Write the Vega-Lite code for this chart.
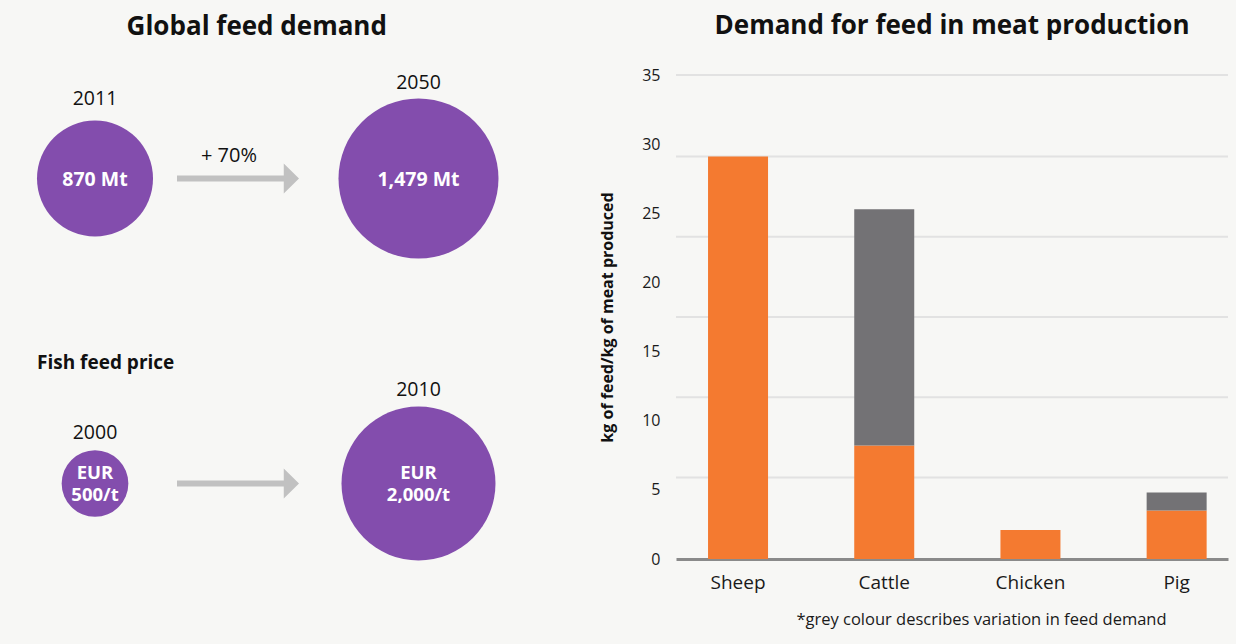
{
  "$schema": "https://vega.github.io/schema/vega-lite/v6.json",
  "background": "#f7f7f5",
  "padding": {"left": 0, "top": 13, "right": 8, "bottom": 16},
  "config": {
    "font": "Open Sans",
    "view": {"stroke": null},
    "title": {"font": "Open Sans", "fontWeight": "bold", "color": "#111111"},
    "axis": {"labelFont": "Open Sans", "titleFont": "Open Sans"},
    "axisY": {
      "labelFontSize": 16, "labelColor": "#1a1a1a", "labelPadding": 16,
      "ticks": false, "domain": false, "grid": false,
      "titleFontSize": 16, "titleFontWeight": "bold", "titleColor": "#111111", "titlePadding": 26
    },
    "axisX": {
      "labelFontSize": 19, "labelColor": "#1a1a1a", "labelPadding": 14, "labelAngle": 0,
      "ticks": false, "grid": false, "domainColor": "#8a8a8a", "domainWidth": 3,
      "titleFontSize": 16.5, "titleFontWeight": "normal", "titleColor": "#1a1a1a"
    }
  },
  "datasets": {
    "feed": [
      {"year": "2011", "value": 870, "label": "870 Mt"},
      {"year": "2050", "value": 1479, "label": "1,479 Mt"}
    ],
    "feedChange": [{"year": "2011", "change": "+ 70%"}],
    "fish": [
      {"year": "2000", "value": 500, "label": "EUR\n500/t"},
      {"year": "2010", "value": 2000, "label": "EUR\n2,000/t"}
    ],
    "fishChange": [{"year": "2000", "change": ""}],
    "meat": [
      {"animal": "Sheep", "part": "base", "value": 29.1},
      {"animal": "Cattle", "part": "base", "value": 8.2},
      {"animal": "Cattle", "part": "variation", "value": 17.1},
      {"animal": "Chicken", "part": "base", "value": 2.1},
      {"animal": "Pig", "part": "base", "value": 3.5},
      {"animal": "Pig", "part": "variation", "value": 1.3}
    ],
    "grid": [
      {"value": 5.9}, {"value": 11.7}, {"value": 17.5}, {"value": 23.3}, {"value": 29.1}, {"value": 35}
    ]
  },
  "spacing": 85,
  "hconcat": [
    {
      "spacing": 72,
      "resolve": {"scale": {"size": "independent"}},
      "vconcat": [
        {
          "title": {"text": "Global feed demand", "fontSize": 26, "offset": 33},
          "width": 513.5,
          "height": 207,
          "layer": [
            {
              "data": {"name": "feedChange"},
              "mark": {"type": "point", "shape": "M-1,-0.05L0.75,-0.05L0.75,-0.246L1,0L0.75,0.246L0.75,0.05L-1,0.05Z", "filled": true, "color": "#c1c1c1", "opacity": 1, "size": 14884, "xOffset": 143, "strokeWidth": 0},
              "encoding": {"x": {"field": "year", "type": "nominal", "axis": null, "scale": {"type": "point", "padding": 0.2937}}}
            },
            {
              "data": {"name": "feedChange"},
              "mark": {"type": "text", "fontSize": 20, "color": "#111111", "xOffset": 134, "yOffset": -23},
              "encoding": {"x": {"field": "year", "type": "nominal", "axis": null}, "text": {"field": "change"}}
            },
            {
              "data": {"name": "feed"},
              "mark": {"type": "point", "shape": "circle", "filled": true, "color": "#834dad", "opacity": 1, "strokeWidth": 0},
              "encoding": {
                "x": {"field": "year", "type": "nominal", "axis": null},
                "size": {"field": "value", "type": "quantitative", "legend": null, "scale": {"domain": [870, 1479], "range": [13456, 25600]}}
              }
            },
            {
              "data": {"name": "feed"},
              "mark": {"type": "text", "color": "white", "fontWeight": "bold", "fontSize": 19.5, "dy": 1},
              "encoding": {"x": {"field": "year", "type": "nominal", "axis": null}, "text": {"field": "label"}}
            },
            {
              "data": {"name": "feed"},
              "transform": [{"filter": "datum.year == '2011'"}],
              "mark": {"type": "text", "fontSize": 19.5, "color": "#111111", "yOffset": -79.5},
              "encoding": {"x": {"field": "year", "type": "nominal", "axis": null}, "text": {"field": "year"}}
            },
            {
              "data": {"name": "feed"},
              "transform": [{"filter": "datum.year == '2050'"}],
              "mark": {"type": "text", "fontSize": 19.5, "color": "#111111", "yOffset": -96},
              "encoding": {"x": {"field": "year", "type": "nominal", "axis": null}, "text": {"field": "year"}}
            }
          ]
        },
        {
          "title": {"text": "Fish feed price", "fontSize": 19, "anchor": "start", "dx": 37, "offset": 4},
          "width": 513.5,
          "height": 213,
          "layer": [
            {
              "data": {"name": "fishChange"},
              "mark": {"type": "point", "shape": "M-1,-0.05L0.75,-0.05L0.75,-0.246L1,0L0.75,0.246L0.75,0.05L-1,0.05Z", "filled": true, "color": "#c1c1c1", "opacity": 1, "size": 14884, "xOffset": 143, "strokeWidth": 0},
              "encoding": {"x": {"field": "year", "type": "nominal", "axis": null, "scale": {"type": "point", "padding": 0.2937}}}
            },
            {
              "data": {"name": "fish"},
              "mark": {"type": "point", "shape": "circle", "filled": true, "color": "#834dad", "opacity": 1, "strokeWidth": 0},
              "encoding": {
                "x": {"field": "year", "type": "nominal", "axis": null},
                "size": {"field": "value", "type": "quantitative", "legend": null, "scale": {"domain": [500, 2000], "range": [4449, 23716]}}
              }
            },
            {
              "data": {"name": "fish"},
              "mark": {"type": "text", "color": "white", "fontWeight": "bold", "fontSize": 18.5, "lineBreak": "\n", "lineHeight": 22, "dy": -11},
              "encoding": {"x": {"field": "year", "type": "nominal", "axis": null}, "text": {"field": "label"}}
            },
            {
              "data": {"name": "fish"},
              "transform": [{"filter": "datum.year == '2000'"}],
              "mark": {"type": "text", "fontSize": 19.5, "color": "#111111", "yOffset": -51},
              "encoding": {"x": {"field": "year", "type": "nominal", "axis": null}, "text": {"field": "year"}}
            },
            {
              "data": {"name": "fish"},
              "transform": [{"filter": "datum.year == '2010'"}],
              "mark": {"type": "text", "fontSize": 19.5, "color": "#111111", "yOffset": -94},
              "encoding": {"x": {"field": "year", "type": "nominal", "axis": null}, "text": {"field": "year"}}
            }
          ]
        }
      ]
    },
    {
      "title": {"text": "Demand for feed in meat production", "fontSize": 26, "offset": 28},
      "width": 552,
      "height": 484,
      "layer": [
        {
          "data": {"name": "grid"},
          "mark": {"type": "rule", "color": "#e2e2e2", "strokeWidth": 2},
          "encoding": {
            "y": {"field": "value", "type": "quantitative", "title": "kg of feed/kg of meat produced", "scale": {"domain": [0, 35], "nice": false}, "axis": {"values": [0, 5, 10, 15, 20, 25, 30, 35]}}
          }
        },
        {
          "data": {"name": "meat"},
          "mark": {"type": "bar"},
          "encoding": {
            "x": {
              "field": "animal", "type": "nominal", "sort": ["Sheep", "Cattle", "Chicken", "Pig"],
              "scale": {"paddingInner": 0.5896, "paddingOuter": 0.1826, "align": 0.6},
              "title": "*grey colour describes variation in feed demand",
              "axis": {"titleX": 305, "titleY": 60, "titleBaseline": "middle"}
            },
            "y": {"field": "value", "type": "quantitative", "title": "kg of feed/kg of meat produced", "scale": {"domain": [0, 35], "nice": false}, "axis": {"values": [0, 5, 10, 15, 20, 25, 30, 35]}},
            "color": {"field": "part", "type": "nominal", "scale": {"domain": ["base", "variation"], "range": ["#f47a30", "#737275"]}, "legend": null},
            "order": {"field": "part", "sort": "ascending"}
          }
        }
      ]
    }
  ]
}
